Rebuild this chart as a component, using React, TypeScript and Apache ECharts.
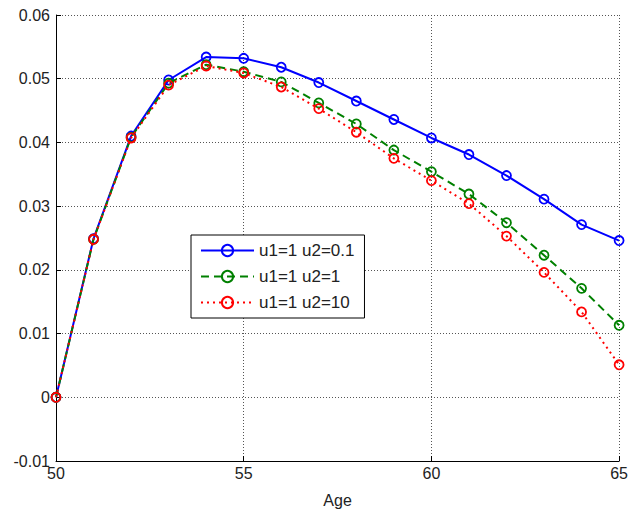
import React, { useEffect, useRef } from "react";
import * as echarts from "echarts";

const ages = [50, 51, 52, 53, 54, 55, 56, 57, 58, 59, 60, 61, 62, 63, 64, 65];
const seriesNames = ["u1=1 u2=0.1", "u1=1 u2=1", "u1=1 u2=10"];
const blueValues = [0, 0.0249, 0.041, 0.0498, 0.0534, 0.0532, 0.0518, 0.0494, 0.0465, 0.0436, 0.0407, 0.0381, 0.0348, 0.0311, 0.0271, 0.0246];
const greenValues = [0, 0.0248, 0.0408, 0.0493, 0.0522, 0.0511, 0.0495, 0.0462, 0.0429, 0.0388, 0.0354, 0.0319, 0.0274, 0.0223, 0.0171, 0.0113];
const redValues = [0, 0.0248, 0.0407, 0.049, 0.052, 0.0509, 0.0487, 0.0453, 0.0416, 0.0375, 0.034, 0.0304, 0.0253, 0.0196, 0.0134, 0.0051];
const colors = ["#0000ff", "#008000", "#ff0000"];
const lineTypes: any[] = ["solid", [8, 5], [2, 4]];

export default function App() {
  const ref = useRef<HTMLDivElement>(null);
  useEffect(() => {
    document.body.style.margin = "0";
    const chart = echarts.init(ref.current!, undefined, { renderer: "svg" });
    const allValues = [blueValues, greenValues, redValues];
    const font = "Liberation Sans, Arial, sans-serif";
    chart.setOption({
      animation: false,
      backgroundColor: "#ffffff",
      grid: { left: 56, right: 8, top: 15, bottom: 50, containLabel: false },
      legend: {
        orient: "vertical",
        left: 191,
        top: 235,
        backgroundColor: "#ffffff",
        borderColor: "#000000",
        borderWidth: 1,
        borderRadius: 0,
        padding: [7, 10, 7, 9],
        itemWidth: 53,
        itemHeight: 14,
        itemGap: 9,
        textStyle: { fontSize: 17, fontFamily: font, color: "#222" },
        data: seriesNames,
      },
      xAxis: {
        type: "value",
        min: 50,
        max: 65,
        interval: 5,
        name: "Age",
        nameLocation: "middle",
        nameGap: 31,
        nameTextStyle: { fontSize: 16, fontFamily: font, color: "#222" },
        axisLine: { show: true, onZero: false, lineStyle: { color: "#000", width: 1 } },
        axisTick: { show: true, inside: true, length: 5, lineStyle: { color: "#000" } },
        axisLabel: { fontSize: 16, fontFamily: font, color: "#222", margin: 4 },
        splitLine: { show: true, lineStyle: { color: "#555", type: [1, 2], width: 1 } },
      },
      yAxis: {
        type: "value",
        min: -0.01,
        max: 0.06,
        interval: 0.01,
        axisLine: { show: true, onZero: false, lineStyle: { color: "#000", width: 1 } },
        axisTick: { show: true, inside: true, length: 5, lineStyle: { color: "#000" } },
        axisLabel: {
          fontSize: 16,
          fontFamily: font,
          color: "#222",
          margin: 6,
          formatter: (v: number) => String(+v.toFixed(2)),
        },
        splitLine: { show: true, lineStyle: { color: "#555", type: [1, 2], width: 1 } },
      },
      series: allValues.map((vals, i) => ({
        name: seriesNames[i],
        type: "line",
        data: ages.map((a, j) => [a, vals[j]]),
        symbol: "circle",
        symbolSize: 9,
        z: 2 + i,
        color: colors[i],
        lineStyle: { color: colors[i], width: 2, type: lineTypes[i] },
        itemStyle: { color: "rgba(255,255,255,0)", borderColor: colors[i], borderWidth: 1.8 },
      })),
    });
    return () => chart.dispose();
  }, []);
  return <div ref={ref} style={{ width: 631, height: 513 }} />;
}
